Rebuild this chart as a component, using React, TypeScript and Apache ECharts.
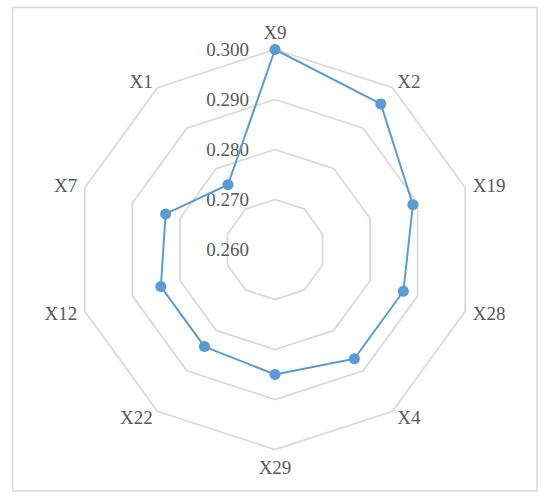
import React, { useEffect, useRef } from "react";
import * as echarts from "echarts";

// Indicators in clockwise order starting from the top
const categories = ["X9", "X2", "X19", "X28", "X4", "X29", "X22", "X12", "X7", "X1"];
const values = [0.3, 0.296, 0.289, 0.287, 0.287, 0.285, 0.284, 0.284, 0.283, 0.276];
const axisMin = 0.26;
const axisMax = 0.3;
const axisSplits = 4;

export default function App() {
  const ref = useRef<HTMLDivElement>(null);
  useEffect(() => {
    if (!ref.current) return;
    const chart = echarts.init(ref.current, undefined, { renderer: "svg" });
    // ECharts lays indicators counter-clockwise; reorder to obtain clockwise layout
    const order = [0, ...categories.slice(1).map((_, i) => categories.length - 1 - i)];
    const indicator = order.map((idx, k) => ({
      name: categories[idx],
      min: axisMin,
      max: axisMax,
      axisLabel: k === 0 ? { show: true } : { show: false },
    }));
    const data = order.map((idx) => values[idx]);
    const font = "'Liberation Serif', 'Times New Roman', serif";
    chart.setOption({
      animation: false,
      backgroundColor: "#ffffff",
      graphic: [
        {
          type: "rect",
          shape: { x: 12.5, y: 7.5, width: 524.5, height: 483.5 },
          style: { fill: "none", stroke: "#d9d9d9", lineWidth: 1.5 },
          silent: true,
        },
      ],
      radar: {
        center: [275, 249.5],
        radius: 200,
        shape: "polygon",
        splitNumber: axisSplits,
        indicator,
        nameGap: 8,
        axisName: {
          color: "#595959",
          fontSize: 19,
          fontFamily: font,
        },
        axisLine: { show: false },
        axisTick: { show: false },
        splitArea: { show: false },
        splitLine: { lineStyle: { color: "#d9d9d9", width: 1.75 } },
        axisLabel: {
          show: false,
          color: "#595959",
          fontSize: 19,
          fontFamily: font,
          margin: 26,
          formatter: (v: number) => v.toFixed(3),
        },
      },
      series: [
        {
          type: "radar",
          symbol: "circle",
          symbolSize: 11,
          lineStyle: { color: "#5b9bd5", width: 2 },
          itemStyle: { color: "#5b9bd5" },
          data: [{ value: data, name: "Series" }],
        },
      ],
    });
    return () => chart.dispose();
  }, []);
  return (
    <div
      ref={ref}
      style={{ position: "absolute", left: 0, top: 0, width: 550, height: 499 }}
    />
  );
}
